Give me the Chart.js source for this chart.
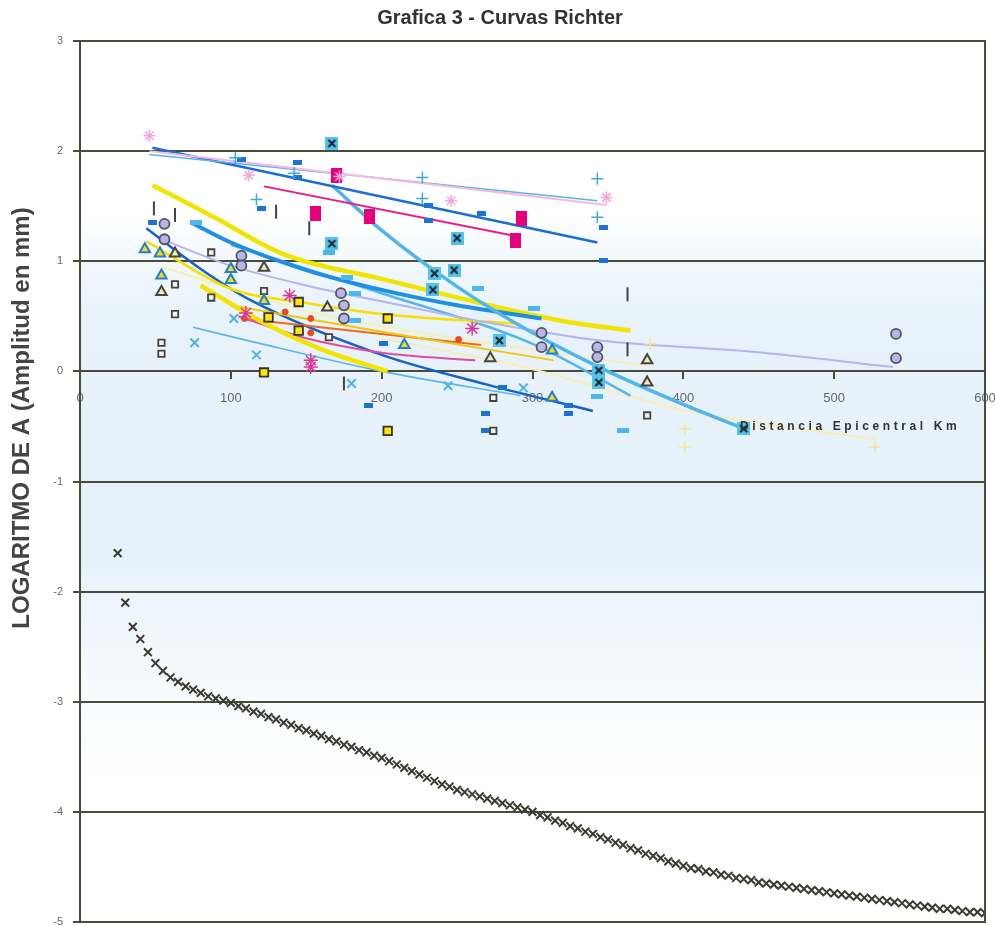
<!DOCTYPE html>
<html><head><meta charset="utf-8">
<script src="https://cdn.jsdelivr.net/npm/chart.js@4.4.1/dist/chart.umd.min.js"></script>
<style>html,body{margin:0;padding:0;background:#fff}</style>
</head><body>
<canvas id="c" width="995" height="926"></canvas>
<script>
// ---------- texts ----------
const chartTitle = 'Grafica 3 - Curvas Richter';
const yTitle = 'LOGARITMO DE A (Amplitud en mm)';
const xTitle = 'Distancia Epicentral Km';
const xTicks = [0, 100, 200, 300, 400, 500, 600];
const yTicks = [3, 2, 1, 0, -1, -2, -3, -4, -5];

// ---------- Richter -log A0 curve ----------
const richterKm = [25,30,35,40,45,50,55,60,65,70,75,80,85,90,95,
100,105,110,115,120,125,130,135,140,145,150,155,160,165,170,175,180,185,190,195,
200,205,210,215,220,225,230,235,240,245,250,255,260,265,270,275,280,285,290,295,
300,305,310,315,320,325,330,335,340,345,350,355,360,365,370,375,380,385,390,395,
400,405,410,415,420,425,430,435,440,445,450,455,460,465,470,475,480,485,490,495,
500,505,510,515,520,525,530,535,540,545,550,555,560,565,570,575,580,585,590,595,600];
const richterLogA0 = [-1.65,-2.10,-2.32,-2.43,-2.55,-2.65,-2.72,-2.78,-2.82,-2.86,-2.89,-2.92,-2.95,-2.97,-2.99,
-3.01,-3.04,-3.06,-3.09,-3.11,-3.14,-3.16,-3.19,-3.21,-3.24,-3.26,-3.29,-3.31,-3.34,-3.36,-3.39,-3.41,-3.44,-3.46,-3.49,
-3.51,-3.54,-3.57,-3.60,-3.63,-3.66,-3.69,-3.72,-3.75,-3.77,-3.80,-3.82,-3.84,-3.86,-3.88,-3.90,-3.92,-3.94,-3.96,-3.98,
-4.00,-4.03,-4.05,-4.08,-4.10,-4.13,-4.15,-4.18,-4.20,-4.23,-4.25,-4.28,-4.30,-4.33,-4.35,-4.38,-4.40,-4.42,-4.45,-4.47,
-4.49,-4.51,-4.52,-4.54,-4.55,-4.57,-4.58,-4.60,-4.61,-4.62,-4.64,-4.65,-4.66,-4.67,-4.68,-4.69,-4.70,-4.71,-4.72,-4.73,
-4.74,-4.75,-4.76,-4.77,-4.78,-4.79,-4.80,-4.81,-4.82,-4.83,-4.84,-4.85,-4.86,-4.87,-4.88,-4.88,-4.89,-4.90,-4.91,-4.91,-4.92];

// ---------- station readings [km, log A] ----------
const pinkStarPts   = [[46,2.14],[112,1.78],[172,1.77],[246,1.55],[349,1.58]];
const bluePlusPts   = [[103,1.94],[117,1.56],[142,1.80],[227,1.76],[227,1.57],[343,1.75],[343,1.40]];
const blueDashUpPts = [[107,1.92],[144,1.90],[144,1.76],[120,1.48],[231,1.51],[231,1.37],[266,1.43],[347,1.31],[347,1.01]];
const magentaPts    = [[156,1.43],[170,1.78],[192,1.41],[293,1.39],[289,1.19]];
const xSquarePts    = [[167,2.07],[167,1.16],[250,1.21],[248,0.92],[235,0.89],[234,0.74],[278,0.28],[344,0.01],[344,-0.10],[440,-0.52]];
const skyDashPts    = [[77,1.35],[165,1.08],[177,0.85],[182,0.71],[182,0.46],[264,0.75],[301,0.57],[343,-0.23],[360,-0.54]];
const lavCirclePts  = [[56,1.34],[56,1.20],[107,1.05],[107,0.96],[173,0.71],[175,0.60],[175,0.48],[306,0.35],[306,0.22],[343,0.22],[343,0.13],[541,0.34],[541,0.12]];
const triBluePts    = [[43,1.11],[53,1.07],[54,0.87],[100,0.93],[100,0.83],[122,0.64],[215,0.24],[313,0.19],[313,-0.24]];
const triDarkPts    = [[54,0.72],[63,1.07],[122,0.94],[164,0.58],[272,0.12],[376,0.10],[376,-0.10]];
const openSqPts     = [[63,0.79],[63,0.52],[54,0.26],[54,0.16],[87,1.08],[87,0.67],[122,0.73],[165,0.31],[274,-0.24],[274,-0.54],[376,-0.40]];
const yellowSqPts   = [[125,0.49],[145,0.63],[145,0.37],[122,-0.01],[204,0.48],[204,-0.54]];
const magStarPts    = [[110,0.53],[139,0.69],[153,0.10],[153,0.04],[260,0.39]];
const redDotPts     = [[109,0.48],[136,0.54],[153,0.48],[153,0.35],[251,0.29]];
const blueXPts      = [[76,0.26],[102,0.48],[117,0.15],[180,-0.11],[244,-0.13],[294,-0.15]];
const blueDashLoPts = [[48,1.35],[201,0.25],[191,-0.31],[269,-0.38],[269,-0.54],[280,-0.15],[324,-0.31],[324,-0.38]];
const pipePts       = [[49,1.48],[63,1.42],[130,1.45],[152,1.30],[175,-0.11],[363,0.70],[363,0.20]];
const palePlusPts   = [[378,0.25],[401,-0.52],[401,-0.69],[527,-0.69]];

// ---------- trend lines [km, log A] ----------
const trendPink     = [[46,2.00],[349,1.51]];
const trendLtBlue   = [[46,1.97],[343,1.55]];
const trendBlue     = [[48,2.03],[343,1.17]];
const trendMagenta  = [[122,1.68],[292,1.22]];
const trendSkySteep = [[167,1.69],[200,1.28],[250,0.77],[300,0.35],[350,0.00],[400,-0.30],[440,-0.52]];
const trendBlueThick= [[74,1.35],[100,1.17],[150,0.92],[200,0.74],[250,0.60],[306,0.48]];
const trendLavender = [[56,1.19],[100,0.96],[150,0.78],[213,0.60],[260,0.47],[345,0.28],[444,0.18],[539,0.04]];
const trendYellowMid= [[44,1.18],[100,0.75],[150,0.62],[200,0.52],[292,0.43]];
const trendYellowTop= [[48,1.69],[89,1.40],[134,1.07],[200,0.84],[319,0.46],[365,0.37]];
const trendYellowLow= [[80,0.78],[122,0.44],[160,0.20],[204,0.00]];
const trendGold     = [[100,0.60],[200,0.36],[314,0.10]];
const trendPaleYel  = [[54,0.95],[150,0.55],[250,0.30],[376,0.05]];
const trendMagThin  = [[105,0.50],[150,0.30],[200,0.17],[262,0.10]];
const trendOrange   = [[107,0.48],[266,0.24]];
const trendLtBlueLo = [[75,0.40],[114,0.27],[200,0.00],[292,-0.22]];
const trendBlueLow  = [[44,1.30],[80,0.93],[114,0.64],[200,0.15],[270,-0.12],[340,-0.36]];
const trendSkyMid   = [[100,1.15],[200,0.71],[300,0.25],[365,-0.22]];
const trendPalePlus = [[200,0.30],[300,0.02],[400,-0.35],[528,-0.62]];

// ---------- helpers ----------
const xy = a => a.map(p => ({x: p[0], y: p[1]}));
function mk(w, h, draw) { const c = document.createElement('canvas'); c.width = w; c.height = h; draw(c.getContext('2d'), w, h); return c; }
const imgBlueDash = mk(9, 5, (g, w, h) => { g.fillStyle = '#1b74d4'; g.fillRect(0, 0, w, h); });
const imgSkyDash = mk(12, 5, (g, w, h) => { g.fillStyle = '#4db6ea'; g.fillRect(0, 0, w, h); });
const imgMagenta = mk(11, 15, (g, w, h) => { g.fillStyle = '#e6007e'; g.fillRect(0, 0, w, h); });
const imgXSquare = mk(13, 13, (g, w, h) => {
  g.fillStyle = '#52c2ef'; g.fillRect(0, 0, w, h);
  g.strokeStyle = '#222'; g.lineWidth = 2;
  g.beginPath(); g.moveTo(3, 3); g.lineTo(10, 10); g.moveTo(10, 3); g.lineTo(3, 10); g.stroke();
});

function pts(label, data, o) {
  return Object.assign({label, data: xy(data), showLine: false, order: 1}, o);
}
function trend(label, data, color, w) {
  return {label, data: xy(data), showLine: true, borderColor: color, borderWidth: w,
    pointRadius: 0, pointHoverRadius: 0, fill: false, tension: 0.4, cubicInterpolationMode: 'monotone', order: 2};
}

const datasets = [
  trend('Tendencia 1', trendPink, '#f6b8df', 2),
  trend('Tendencia 2', trendLtBlue, '#5ab4e6', 1.6),
  trend('Tendencia 3', trendBlue, '#1a6fd6', 2.5),
  trend('Tendencia 4', trendMagenta, '#ea1a8c', 2),
  trend('Tendencia 5', trendSkySteep, '#4fb5ea', 3.5),
  trend('Tendencia 6', trendBlueThick, '#1e8fe3', 4),
  trend('Tendencia 7', trendLavender, '#b6b3f0', 2),
  trend('Tendencia 8', trendYellowMid, '#f5e000', 2.5),
  trend('Tendencia 9', trendYellowTop, '#f0e400', 4.5),
  trend('Tendencia 10', trendYellowLow, '#f5e400', 4.5),
  trend('Tendencia 11', trendGold, '#f5c800', 2),
  trend('Tendencia 12', trendPaleYel, '#f7efb4', 2),
  trend('Tendencia 13', trendMagThin, '#e34aa0', 2),
  trend('Tendencia 14', trendOrange, '#f26a1b', 2),
  trend('Tendencia 15', trendLtBlueLo, '#5ab8ea', 1.6),
  trend('Tendencia 16', trendBlueLow, '#1662c8', 2.5),
  trend('Tendencia 17', trendSkyMid, '#56b6ea', 2.5),
  trend('Tendencia 18', trendPalePlus, '#f7eeb4', 2),

  pts('Estación A', pinkStarPts, {pointStyle: 'star', radius: 6, borderColor: '#f4a6d7', backgroundColor: '#f4a6d7', borderWidth: 1.5}),
  pts('Estación B', bluePlusPts, {pointStyle: 'cross', radius: 6, borderColor: '#3fa6e6', backgroundColor: '#3fa6e6', borderWidth: 1.5}),
  pts('Estación C', blueDashUpPts, {pointStyle: imgBlueDash}),
  pts('Estación D', magentaPts, {pointStyle: imgMagenta}),
  pts('Estación E', xSquarePts, {pointStyle: imgXSquare}),
  pts('Estación F', skyDashPts, {pointStyle: imgSkyDash}),
  pts('Estación G', lavCirclePts, {pointStyle: 'circle', radius: 5, backgroundColor: '#b7b5ee', borderColor: '#555', borderWidth: 1.8}),
  pts('Estación H', triBluePts, {pointStyle: 'triangle', radius: 6, backgroundColor: '#ffd800', borderColor: '#1a80e0', borderWidth: 2}),
  pts('Estación I', triDarkPts, {pointStyle: 'triangle', radius: 6, backgroundColor: '#f3ecb0', borderColor: '#444', borderWidth: 2}),
  pts('Estación J', openSqPts, {pointStyle: 'rect', radius: 4.5, backgroundColor: '#f4f4e6', borderColor: '#444', borderWidth: 1.8}),
  pts('Estación K', yellowSqPts, {pointStyle: 'rect', radius: 6, backgroundColor: '#ffe600', borderColor: '#333', borderWidth: 1.8}),
  pts('Estación L', magStarPts, {pointStyle: 'star', radius: 7, borderColor: '#d8389a', backgroundColor: '#d8389a', borderWidth: 1.5}),
  pts('Estación M', redDotPts, {pointStyle: 'circle', radius: 3, borderColor: '#e84a2a', backgroundColor: '#e84a2a', borderWidth: 1}),
  pts('Estación N', blueXPts, {pointStyle: 'crossRot', radius: 6, borderColor: '#4cb3e8', backgroundColor: '#4cb3e8', borderWidth: 2}),
  pts('Estación O', blueDashLoPts, {pointStyle: imgBlueDash}),
  pts('Estación P', pipePts, {pointStyle: 'line', rotation: 90, radius: 7, borderColor: '#444', borderWidth: 2}),
  pts('Estación Q', palePlusPts, {pointStyle: 'cross', radius: 6, borderColor: '#f3e79a', backgroundColor: '#f3e79a', borderWidth: 1.5}),
  {label: '-log A0 (Richter)', data: richterKm.map((k, i) => ({x: k, y: richterLogA0[i]})), showLine: false,
   pointStyle: 'crossRot', radius: 5.5, borderColor: '#3b3b30', backgroundColor: '#3b3b30', borderWidth: 2, order: 0}
];

const PLOT_BOTTOM = 922;

const frame = {
  id: 'frame',
  afterLayout(chart) {
    const ca = chart.chartArea;
    const y = chart.scales.y;
    ca.bottom = PLOT_BOTTOM; ca.height = ca.bottom - ca.top;
    y.bottom = PLOT_BOTTOM; y.height = y.bottom - y.top;
    y.configure();
  },
  beforeDraw(chart) {
    const {ctx, chartArea: a} = chart;
    ctx.save();
    const H = a.bottom - a.top;
    const g = ctx.createLinearGradient(0, a.top, 0, a.bottom);
    const s = (py, c) => g.addColorStop(Math.min(1, Math.max(0, (py - a.top) / H)), c);
    s(a.top, '#ffffff'); s(215, '#ffffff'); s(265, '#f1f8fd'); s(320, '#e7f2fa');
    s(560, '#e6f2fa'); s(630, '#eff7fc'); s(720, '#fafcfe'); s(780, '#ffffff'); s(a.bottom, '#ffffff');
    ctx.fillStyle = g;
    ctx.fillRect(a.left, a.top, a.right - a.left, H);
    ctx.restore();
  },
  afterDraw(chart) {
    const {ctx, chartArea: a} = chart;
    ctx.save();
    ctx.strokeStyle = '#4b4b3c'; ctx.lineWidth = 2;
    ctx.strokeRect(a.left, a.top, a.right - a.left, a.bottom - a.top);
    ctx.fillStyle = '#333';
    ctx.font = 'bold 20px "Liberation Sans", Arial, sans-serif';
    ctx.textAlign = 'center'; ctx.textBaseline = 'middle';
    ctx.fillText(chartTitle, 500, 18);
    ctx.save();
    ctx.translate(22, 418); ctx.rotate(-Math.PI / 2);
    ctx.fillStyle = '#444';
    ctx.font = 'bold 24px "Liberation Sans", Arial, sans-serif';
    ctx.fillText(yTitle, 0, 0);
    ctx.restore();
    ctx.fillStyle = '#333';
    ctx.font = 'bold 12px "Liberation Sans", Arial, sans-serif';
    ctx.textAlign = 'left';
    try { ctx.letterSpacing = '3.6px'; } catch (e) {}
    ctx.fillText(xTitle, 740, 427);
    ctx.restore();
  }
};

new Chart(document.getElementById('c'), {
  type: 'scatter',
  data: {datasets},
  options: {
    responsive: false, animation: false, devicePixelRatio: 1,
    layout: {padding: {top: 41, right: 10, bottom: 4, left: 0}},
    plugins: {legend: {display: false}, tooltip: {enabled: false}, title: {display: false}},
    scales: {
      x: {
        type: 'linear', min: 0, max: 600, position: {y: 0},
        afterBuildTicks: s => { s.ticks = xTicks.map(v => ({value: v})); },
        afterFit: s => { s.height = 0; s.paddingLeft = 0; s.paddingRight = 0; s.paddingTop = 0; s.paddingBottom = 0; },
        ticks: {color: '#666', font: {size: 13, family: '"Liberation Sans", Arial'}, padding: 12, maxRotation: 0},
        grid: {display: true, drawOnChartArea: false, drawTicks: true, tickLength: 7, color: '#4b4b3c', lineWidth: 2},
        border: {display: true, color: '#4b4b3c', width: 2},
        title: {display: false, text: xTitle}
      },
      y: {
        type: 'linear', min: -5, max: 3,
        afterBuildTicks: s => { s.ticks = yTicks.map(v => ({value: v})); },
        afterFit: s => { s.width = 80; s.paddingTop = 0; s.paddingBottom = 0; },
        ticks: {color: '#666', font: {size: 11, family: '"Liberation Sans", Arial'}, padding: 10},
        grid: {color: '#4b4b3c', lineWidth: 2, tickLength: 7},
        border: {display: true, color: '#4b4b3c', width: 2},
        title: {display: false, text: yTitle}
      }
    }
  },
  plugins: [frame]
});
</script>
</body></html>
